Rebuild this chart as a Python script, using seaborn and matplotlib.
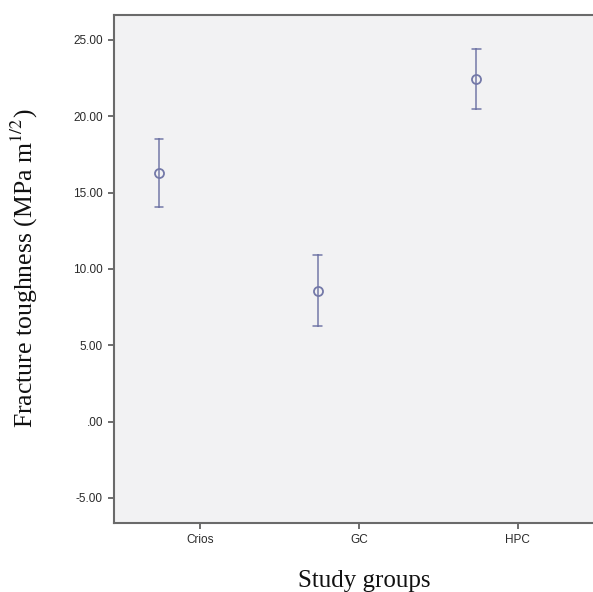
import matplotlib
matplotlib.use("Agg")
import matplotlib.pyplot as plt
from matplotlib.ticker import FuncFormatter
import numpy as np
import pandas as pd
import seaborn as sns

# groups and summary values (mean with lower / upper limit of the bar)
groups = ["Crios", "GC", "HPC"]
means = [16.31, 8.58, 22.45]
lower = [14.08, 6.27, 20.48]
upper = [18.50, 10.92, 24.39]
y_ticks = [-5, 0, 5, 10, 15, 20, 25]

# SPSS draws the bars a bit left of each category tick
offset = -0.26
colour = "#7479a8"

# long table: median of (lower, mean, upper) is the mean, min-max is the bar
rows = []
for i, g in enumerate(groups):
    for v in (lower[i], means[i], upper[i]):
        rows.append({"pos": i + offset, "group": g, "value": v})
df = pd.DataFrame(rows)

sns.set_style("ticks")
plt.rcParams["mathtext.fontset"] = "stix"
fig = plt.figure(figsize=(5.93, 5.92), dpi=100)
ax = fig.add_axes([114 / 593, 69.3 / 592, 490 / 593, 508.2 / 592])
ax.set_facecolor("#f2f2f3")

sns.pointplot(data=df, x="pos", y="value", native_scale=True,
              estimator="median", errorbar=("pi", 100),
              linestyle="none", color=colour, markers="o",
              capsize=0.055, err_kws={"linewidth": 1.1},
              ax=ax)
for line in ax.lines:
    line.set_markerfacecolor("none")
    line.set_markeredgecolor(colour)
    line.set_markersize(6.5)
    line.set_markeredgewidth(1.3)

ax.set_xlim(-0.543, 2.543)
ax.set_ylim(-6.62, 26.67)
ax.set_xticks(range(len(groups)))
ax.set_xticklabels(groups)
ax.set_yticks(y_ticks)


def fmt(v, pos):
    s = f"{v:.2f}"
    return ".00" if s in ("0.00", "-0.00") else s


ax.yaxis.set_major_formatter(FuncFormatter(fmt))

for sp in ax.spines.values():
    sp.set_color("#6a6a6a")
    sp.set_linewidth(1.5)

ax.tick_params(axis="both", colors="#555555", length=4.5, width=1.2,
               labelsize=8.5, labelcolor="#2a2a2a")
for lab in ax.get_xticklabels() + ax.get_yticklabels():
    lab.set_family(["Liberation Sans", "DejaVu Sans"])

ax.set_xlabel("Study groups", family=["Liberation Serif", "DejaVu Serif"],
              fontsize=18, color="#111111")
ax.set_ylabel("Fracture toughness (MPa m$^{1/2}$)",
              family=["Liberation Serif", "DejaVu Serif"],
              fontsize=18.5, color="#111111")
ax.xaxis.set_label_coords(0.51, -0.093)
ax.yaxis.set_label_coords(-0.15, 0.5)

fig.savefig("out.png", dpi=100)
